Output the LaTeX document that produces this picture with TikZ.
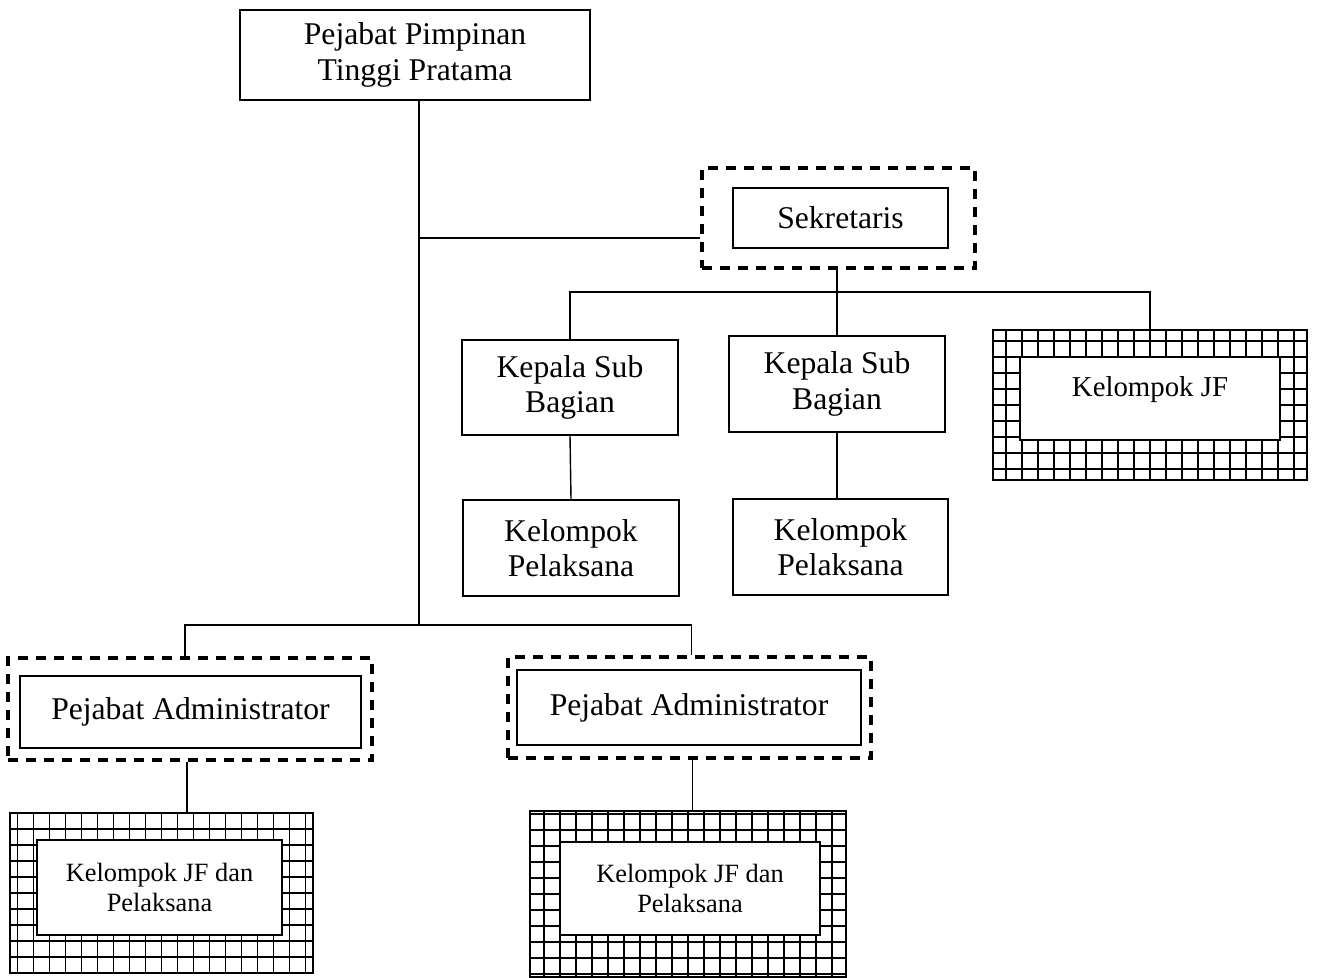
\documentclass[tikz,border=0pt]{standalone}
\usepackage{fontspec}
\setmainfont{Liberation Serif}
\usetikzlibrary{positioning,calc}

\begin{document}
\begin{tikzpicture}[
    x=0.2mm, y=-0.2mm,
    inner sep=1pt,
    box/.style={draw=black,line width=1.1pt,align=center,
        font=\fontsize{18}{20}\selectfont},
    dbox/.style={draw=black,line width=1.8pt,
        dash pattern=on 2mm off 1.6mm},
    gbox/.style={draw=black,line width=1.6pt,
        path picture={\draw[line width=0.9pt,step=3.2mm]
            (path picture bounding box.south west) grid
            (path picture bounding box.north east);}},
    ibox/.style={draw=black,fill=white,line width=0.6pt,align=center,
        font=\fontsize{15}{17}\selectfont},
    conn/.style={black,line width=0.8pt},
    ]
    \useasboundingbox (0,0) rectangle (1317,977);

    % pimpinan
    \node[box,minimum width=70mm,minimum height=18mm] (top) at (415,55)
        {Pejabat Pimpinan\\Tinggi Pratama};

    % sekretariat
    \node[dbox,minimum width=54.6mm,minimum height=20mm] (sekOut) at (838.5,218) {};
    \node[box,minimum width=43mm,minimum height=12mm] (sek) at (840.5,218) {Sekretaris};
    \node[box,minimum width=43.2mm,minimum height=19mm] (kasubA) at (570,387.5)
        {Kepala Sub\\Bagian};
    \node[box,minimum width=43.2mm,minimum height=19.2mm] (kasubB) at (837,384)
        {Kepala Sub\\Bagian};
    \node[box,minimum width=43.2mm,minimum height=19.2mm] (pelA) at (571,548)
        {Kelompok\\Pelaksana};
    \node[box,minimum width=43mm,minimum height=19.2mm] (pelB) at (840.5,547)
        {Kelompok\\Pelaksana};
    \node[gbox,minimum width=62.8mm,minimum height=30mm] (grdJF) at (1150,405) {};
    \node[ibox,minimum width=52mm,minimum height=16.6mm,
        font=\fontsize{16.4}{18}\selectfont] (jf) at (1150,398.5)
        {\raisebox{5mm}{Kelompok JF}};

    % administrator
    \node[dbox,minimum width=72.8mm,minimum height=20.4mm] (admOutA) at (190,709) {};
    \node[box,minimum width=68.2mm,minimum height=14.4mm] (admA) at (190.5,712)
        {Pejabat Administrator};
    \node[dbox,minimum width=72.6mm,minimum height=20.2mm] (admOutB) at (689.5,707.5) {};
    \node[box,minimum width=68.8mm,minimum height=15mm] (admB) at (689,707.5)
        {Pejabat Administrator};
    \node[gbox,minimum width=60.6mm,minimum height=32mm] (grdA) at (161.5,893) {};
    \node[ibox,minimum width=49mm,minimum height=19mm] (jfA) at (159.5,887.5)
        {Kelompok JF dan\\Pelaksana};
    \node[gbox,minimum width=63.2mm,minimum height=33.2mm] (grdB) at (688,894) {};
    \node[ibox,minimum width=52mm,minimum height=18.6mm] (jfB) at (690,888.5)
        {Kelompok JF dan\\Pelaksana};

    % garis
    \coordinate (jSek) at (0,238);
    \coordinate (busS) at (0,292);
    \coordinate (busP) at (0,625);
    \draw[conn] ($(top.south)+(4,0)$) -- ($(top.south |- busP)+(4,0)$);
    \draw[conn] ($(top.south |- jSek)+(4,0)$) -- (sekOut.west |- jSek);
    \draw[conn] (kasubB.north) -- (kasubB.north |- sekOut.south);
    \draw[conn] (kasubA.north) -- (kasubA.north |- busS)
        -- (grdJF.north |- busS) -- (grdJF.north);
    \draw[conn] (kasubA.south) -- (pelA.north);
    \draw[conn] (kasubB.south) -- (kasubB.south |- pelB.north);
    \draw[conn] ($(admOutA.north)+(-5,0)$) -- ($(admOutA.north |- busP)+(-5,0)$)
        -- ($(admOutB.north |- busP)+(2,0)$) -- ($(admOutB.north)+(2,0)$);
    \draw[conn] ($(admOutA.south)+(-3,0)$) -- ($(admOutA.south |- grdA.north)+(-3,0)$);
    \draw[conn] ($(admOutB.south)+(3,0)$) -- ($(admOutB.south |- grdB.north)+(3,0)$);
\end{tikzpicture}
\end{document}
